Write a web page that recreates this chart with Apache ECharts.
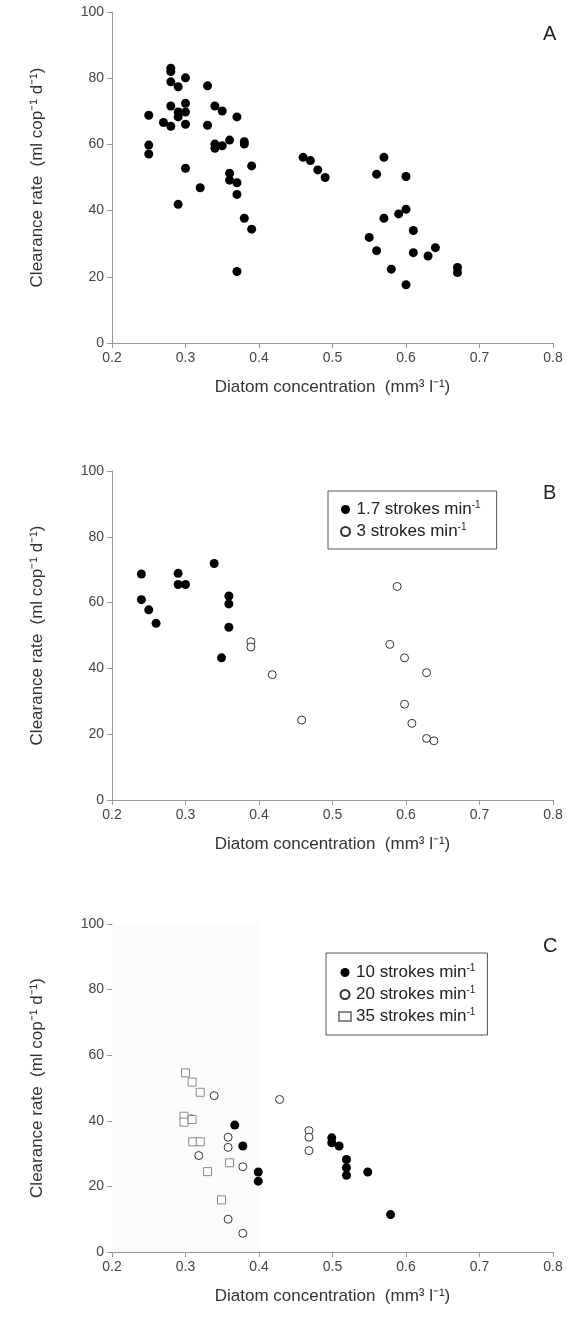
<!DOCTYPE html>
<html style="height: 100%">
<head>
    <meta charset="UTF-8">
    <title>Clearance rate</title>
    <script type="text/javascript" src="https://cdn.jsdelivr.net/npm/echarts/dist/echarts.min.js"></script>
</head>
<body style="height: 100%; margin: 0; background: #fff">
    <div id="container" style="width: 573px; height: 1332px"></div>
<script>
    // Panel A
    var dataA = [
        [0.25,68.8],[0.25,59.8],[0.25,57.1],[0.27,66.6],[0.28,65.5],[0.28,83],[0.28,82],[0.28,78.9],[0.28,71.6],
        [0.29,77.4],[0.29,69.8],[0.29,68.3],[0.30,80.1],[0.30,72.4],[0.30,69.8],[0.30,66.1],[0.30,52.8],[0.29,41.9],
        [0.32,46.9],[0.33,77.7],[0.33,65.8],[0.34,71.6],[0.35,70.1],[0.34,60.1],[0.34,58.8],[0.35,59.6],[0.36,61.3],
        [0.36,51.3],[0.36,49.2],[0.37,68.3],[0.37,48.4],[0.37,44.9],[0.37,21.6],[0.38,60.8],[0.38,60.1],[0.38,37.7],
        [0.39,53.5],[0.39,34.4],[0.46,56.1],[0.47,55.1],[0.48,52.3],[0.49,50],[0.55,31.9],[0.56,51],[0.56,27.9],
        [0.57,56.1],[0.57,37.7],[0.58,22.3],[0.59,39],[0.60,40.4],[0.60,50.3],[0.60,17.6],[0.61,34],[0.61,27.3],
        [0.63,26.3],[0.64,28.8],[0.67,22.8],[0.67,21.3]
    ];
    // Panel B
    var dataB17 = [[0.24,68.7],[0.24,60.9],[0.25,57.8],[0.26,53.7],[0.29,68.9],[0.29,65.5],[0.30,65.5],[0.339,71.9],
        [0.359,62],[0.359,59.6],[0.359,52.5],[0.349,43.2]];
    var dataB3 = [[0.389,48.1],[0.389,46.5],[0.418,38.1],[0.458,24.3],[0.588,64.9],[0.578,47.3],[0.598,43.2],
        [0.628,38.7],[0.598,29.1],[0.608,23.3],[0.628,18.7],[0.638,18]];
    // Panel C
    var dataC10 = [[0.367,38.7],[0.378,32.3],[0.399,24.4],[0.399,21.6],[0.499,34.8],[0.499,33.3],[0.509,32.3],
        [0.519,28.2],[0.519,25.7],[0.519,23.4],[0.548,24.4],[0.579,11.4]];
    var dataC20 = [[0.339,47.7],[0.428,46.5],[0.358,35],[0.358,31.9],[0.378,26],[0.318,29.4],[0.308,40.6],
        [0.358,10],[0.378,5.7],[0.468,37],[0.468,35],[0.468,30.9]];
    var dataC35 = [[0.30,54.6],[0.309,51.8],[0.32,48.7],[0.298,41.4],[0.298,39.6],[0.309,40.4],[0.31,33.6],
        [0.32,33.6],[0.33,24.5],[0.36,27.2],[0.349,15.9]];
    var panelLetters = ['A', 'B', 'C'];
    var legendB = ['1.7 strokes min{s|-1}', '3 strokes min{s|-1}'];
    var legendC = ['10 strokes min{s|-1}', '20 strokes min{s|-1}', '35 strokes min{s|-1}'];

    var font = 'Liberation Sans, Arial, sans-serif';
    var tops = [12, 471, 924];
    var heights = [331, 329, 328];

    var grids = [], xAxes = [], yAxes = [];
    for (var i = 0; i < 3; i++) {
        grids.push({left: 112, width: 441, top: tops[i], height: heights[i]});
        xAxes.push({
            gridIndex: i, type: 'value', min: 0.2, max: 0.8, interval: 0.1,
            name: 'Diatom concentration  (mm³ l⁻¹)', nameLocation: 'middle', nameGap: 36,
            nameTextStyle: {fontFamily: font, fontSize: 17, color: '#333'},
            axisLine: {lineStyle: {color: '#999'}},
            axisTick: {lineStyle: {color: '#999'}},
            axisLabel: {fontFamily: font, fontSize: 14, color: '#444', formatter: function (v) { return v.toFixed(1); }},
            splitLine: {show: false}
        });
        yAxes.push({
            gridIndex: i, type: 'value', min: 0, max: 100, interval: 20,
            name: 'Clearance rate  (ml cop⁻¹ d⁻¹)', nameLocation: 'middle', nameGap: 66,
            nameTextStyle: {fontFamily: font, fontSize: 17, color: '#333'},
            axisLine: {show: true, lineStyle: {color: '#999'}},
            axisTick: {show: true, lineStyle: {color: '#999'}},
            axisLabel: {fontFamily: font, fontSize: 14, color: '#444'},
            splitLine: {show: false}
        });
    }

    function filled(name, data, idx) {
        return {name: name, type: 'scatter', xAxisIndex: idx, yAxisIndex: idx, data: data,
            symbol: 'circle', symbolSize: 9, itemStyle: {color: '#000', opacity: 1}};
    }
    function open(name, data, idx, sym, col) {
        return {name: name, type: 'scatter', xAxisIndex: idx, yAxisIndex: idx, data: data,
            symbol: sym || 'circle', symbolSize: 8,
            itemStyle: {color: '#fff', borderColor: col || '#333', borderWidth: 1, opacity: 1}};
    }

    var series = [
        filled('A', dataA, 0),
        filled(legendB[0], dataB17, 1),
        open(legendB[1], dataB3, 1),
        filled(legendC[0], dataC10, 2),
        open(legendC[1], dataC20, 2),
        open(legendC[2], dataC35, 2, 'rect', '#888')
    ];
    series[3].markArea = {silent: true, itemStyle: {color: '#fbfbfb'}, data: [[{xAxis: 0.2, yAxis: 0}, {xAxis: 0.4, yAxis: 100}]]};

    var legStyle = {fontFamily: font, fontSize: 17, color: '#222', rich: {s: {fontSize: 10, verticalAlign: 'top', padding: [0, 0, 9, 0]}}};
    var legends = [
        {data: legendB, left: 328, top: 491, orient: 'vertical', itemGap: 4, itemWidth: 12, itemHeight: 9,
            borderColor: '#555', borderWidth: 1, padding: [9, 16, 9, 12], textStyle: legStyle},
        {data: legendC, left: 326, top: 953, orient: 'vertical', itemGap: 4, itemWidth: 12, itemHeight: 9,
            borderColor: '#555', borderWidth: 1, padding: [10, 12, 10, 12], textStyle: legStyle}
    ];

    var graphics = panelLetters.map(function (t, i) {
        return {type: 'text', left: 543, top: tops[i] + 12, style: {text: t, font: '20px ' + font, fill: '#222'}};
    });

    var myChart = echarts.init(document.getElementById('container'));
    myChart.setOption({
        animation: false,
        grid: grids, xAxis: xAxes, yAxis: yAxes,
        legend: legends,
        graphic: graphics,
        series: series
    });
</script>
</body>
</html>
